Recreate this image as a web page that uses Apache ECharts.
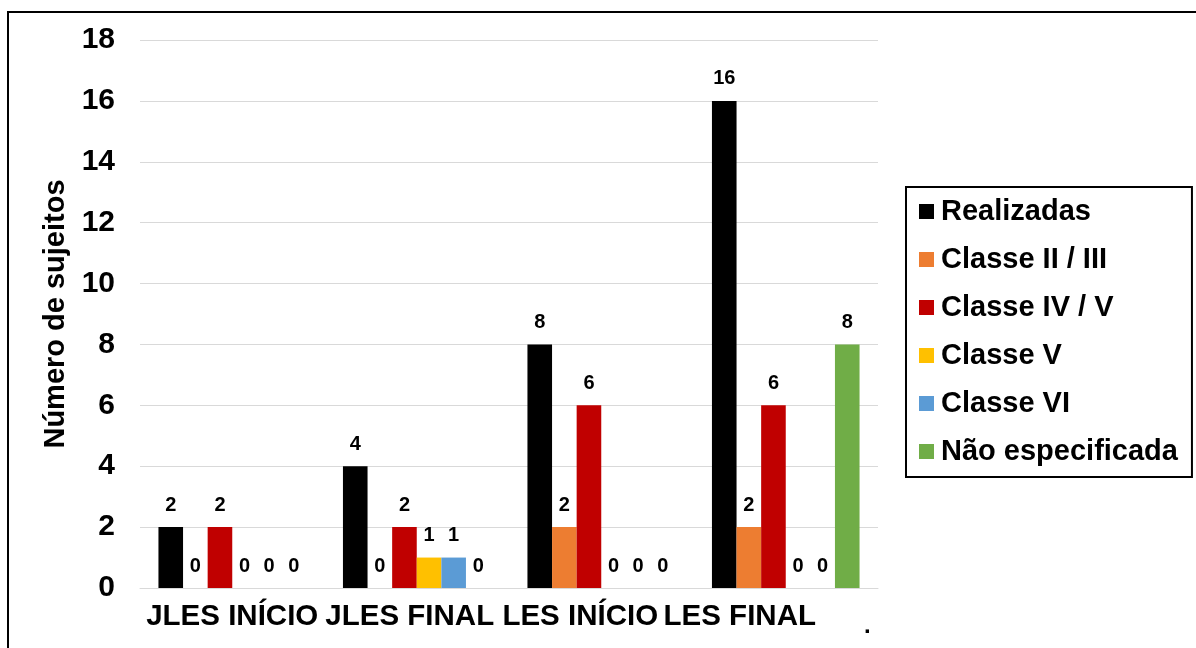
<!DOCTYPE html>
<html>
<head>
<meta charset="utf-8">
<script src="https://cdn.jsdelivr.net/npm/echarts@6/dist/echarts.min.js"></script>
<style>
    html, body { margin: 0; padding: 0; background: #fff; }
    #chart { width: 1196px; height: 648px; }
</style>
</head>
<body>
<div id="chart"></div>
<script>
// dados do gráfico
var categories = ['JLES INÍCIO', 'JLES FINAL', 'LES INÍCIO', 'LES FINAL']
var seriesNames = ['Realizadas', 'Classe II / III', 'Classe IV / V', 'Classe V', 'Classe VI', 'Não especificada']
var realizadas = [2, 4, 8, 16]
var classe23 = [0, 0, 2, 2]
var classe45 = [2, 2, 6, 6]
var classe5 = [0, 1, 0, 0]
var classe6 = [0, 1, 0, 0]
var naoEspecificada = [0, 0, 0, 8]
var yTicks = { min: 0, max: 18, interval: 2 }

var colors = ['#000000', '#ED7D31', '#C00000', '#FFC000', '#5B9BD5', '#70AD47']
var values = [realizadas, classe23, classe45, classe5, classe6, naoEspecificada]
var font = '"Liberation Sans", Arial, sans-serif'
// no original os rótulos do eixo x ficam deslocados para a esquerda
var labelShift = [0, 14, 42, 92]

var myChart = echarts.init(document.getElementById('chart'))

var series = seriesNames.map(function(name, i) {
    return {
        name: name,
        type: 'bar',
        barGap: '0%',
        barCategoryGap: '20%',
        itemStyle: { color: colors[i] },
        label: {
            show: true,
            position: 'top',
            distance: 12,
            color: '#000',
            fontFamily: font,
            fontWeight: 'bold',
            fontSize: 20,
        },
        data: values[i],
    }
})

var option = {
    animation: false,
    backgroundColor: '#fff',
    textStyle: { fontFamily: font },
    grid: {
        left: 140,
        right: 318,
        top: 40,
        bottom: 60,
    },
    legend: {
        orient: 'vertical',
        left: 906,
        top: 187,
        padding: [10, 14, 11, 13],
        itemGap: 19,
        itemWidth: 15,
        itemHeight: 15,
        icon: 'rect',
        borderColor: '#000',
        borderWidth: 2,
        textStyle: {
            color: '#000',
            fontFamily: font,
            fontWeight: 'bold',
            fontSize: 29,
            lineHeight: 29,
            padding: [0, 0, 0, 2],
        },
        data: seriesNames,
    },
    xAxis: {
        type: 'category',
        data: categories.map(function(c, i) {
            return { value: c, textStyle: { padding: [0, labelShift[i], 0, 0] } }
        }),
        axisTick: { show: false },
        axisLine: { lineStyle: { color: '#d9d9d9', width: 1 } },
        axisLabel: {
            interval: 0,
            margin: 14,
            color: '#000',
            fontFamily: font,
            fontWeight: 'bold',
            fontSize: 29.5,
        },
    },
    yAxis: {
        type: 'value',
        min: yTicks.min,
        max: yTicks.max,
        interval: yTicks.interval,
        name: 'Número de sujeitos',
        nameLocation: 'middle',
        nameGap: 62,
        nameTextStyle: {
            color: '#000',
            fontFamily: font,
            fontWeight: 'bold',
            fontSize: 29,
        },
        axisLine: { show: false },
        axisTick: { show: false },
        axisLabel: {
            margin: 25,
            color: '#000',
            fontFamily: font,
            fontWeight: 'bold',
            fontSize: 30,
        },
        splitLine: { lineStyle: { color: '#d9d9d9', width: 1 } },
    },
    graphic: [
        {
            type: 'rect',
            shape: { x: 8, y: 12, width: 1200, height: 660 },
            style: { fill: 'none', stroke: '#000', lineWidth: 2 },
            silent: true,
        },
        {
            type: 'text',
            left: 864,
            top: 614,
            style: { text: '.', fill: '#000', font: 'bold 24px ' + font },
        },
    ],
    series: series,
}

myChart.setOption(option)
</script>
</body>
</html>
